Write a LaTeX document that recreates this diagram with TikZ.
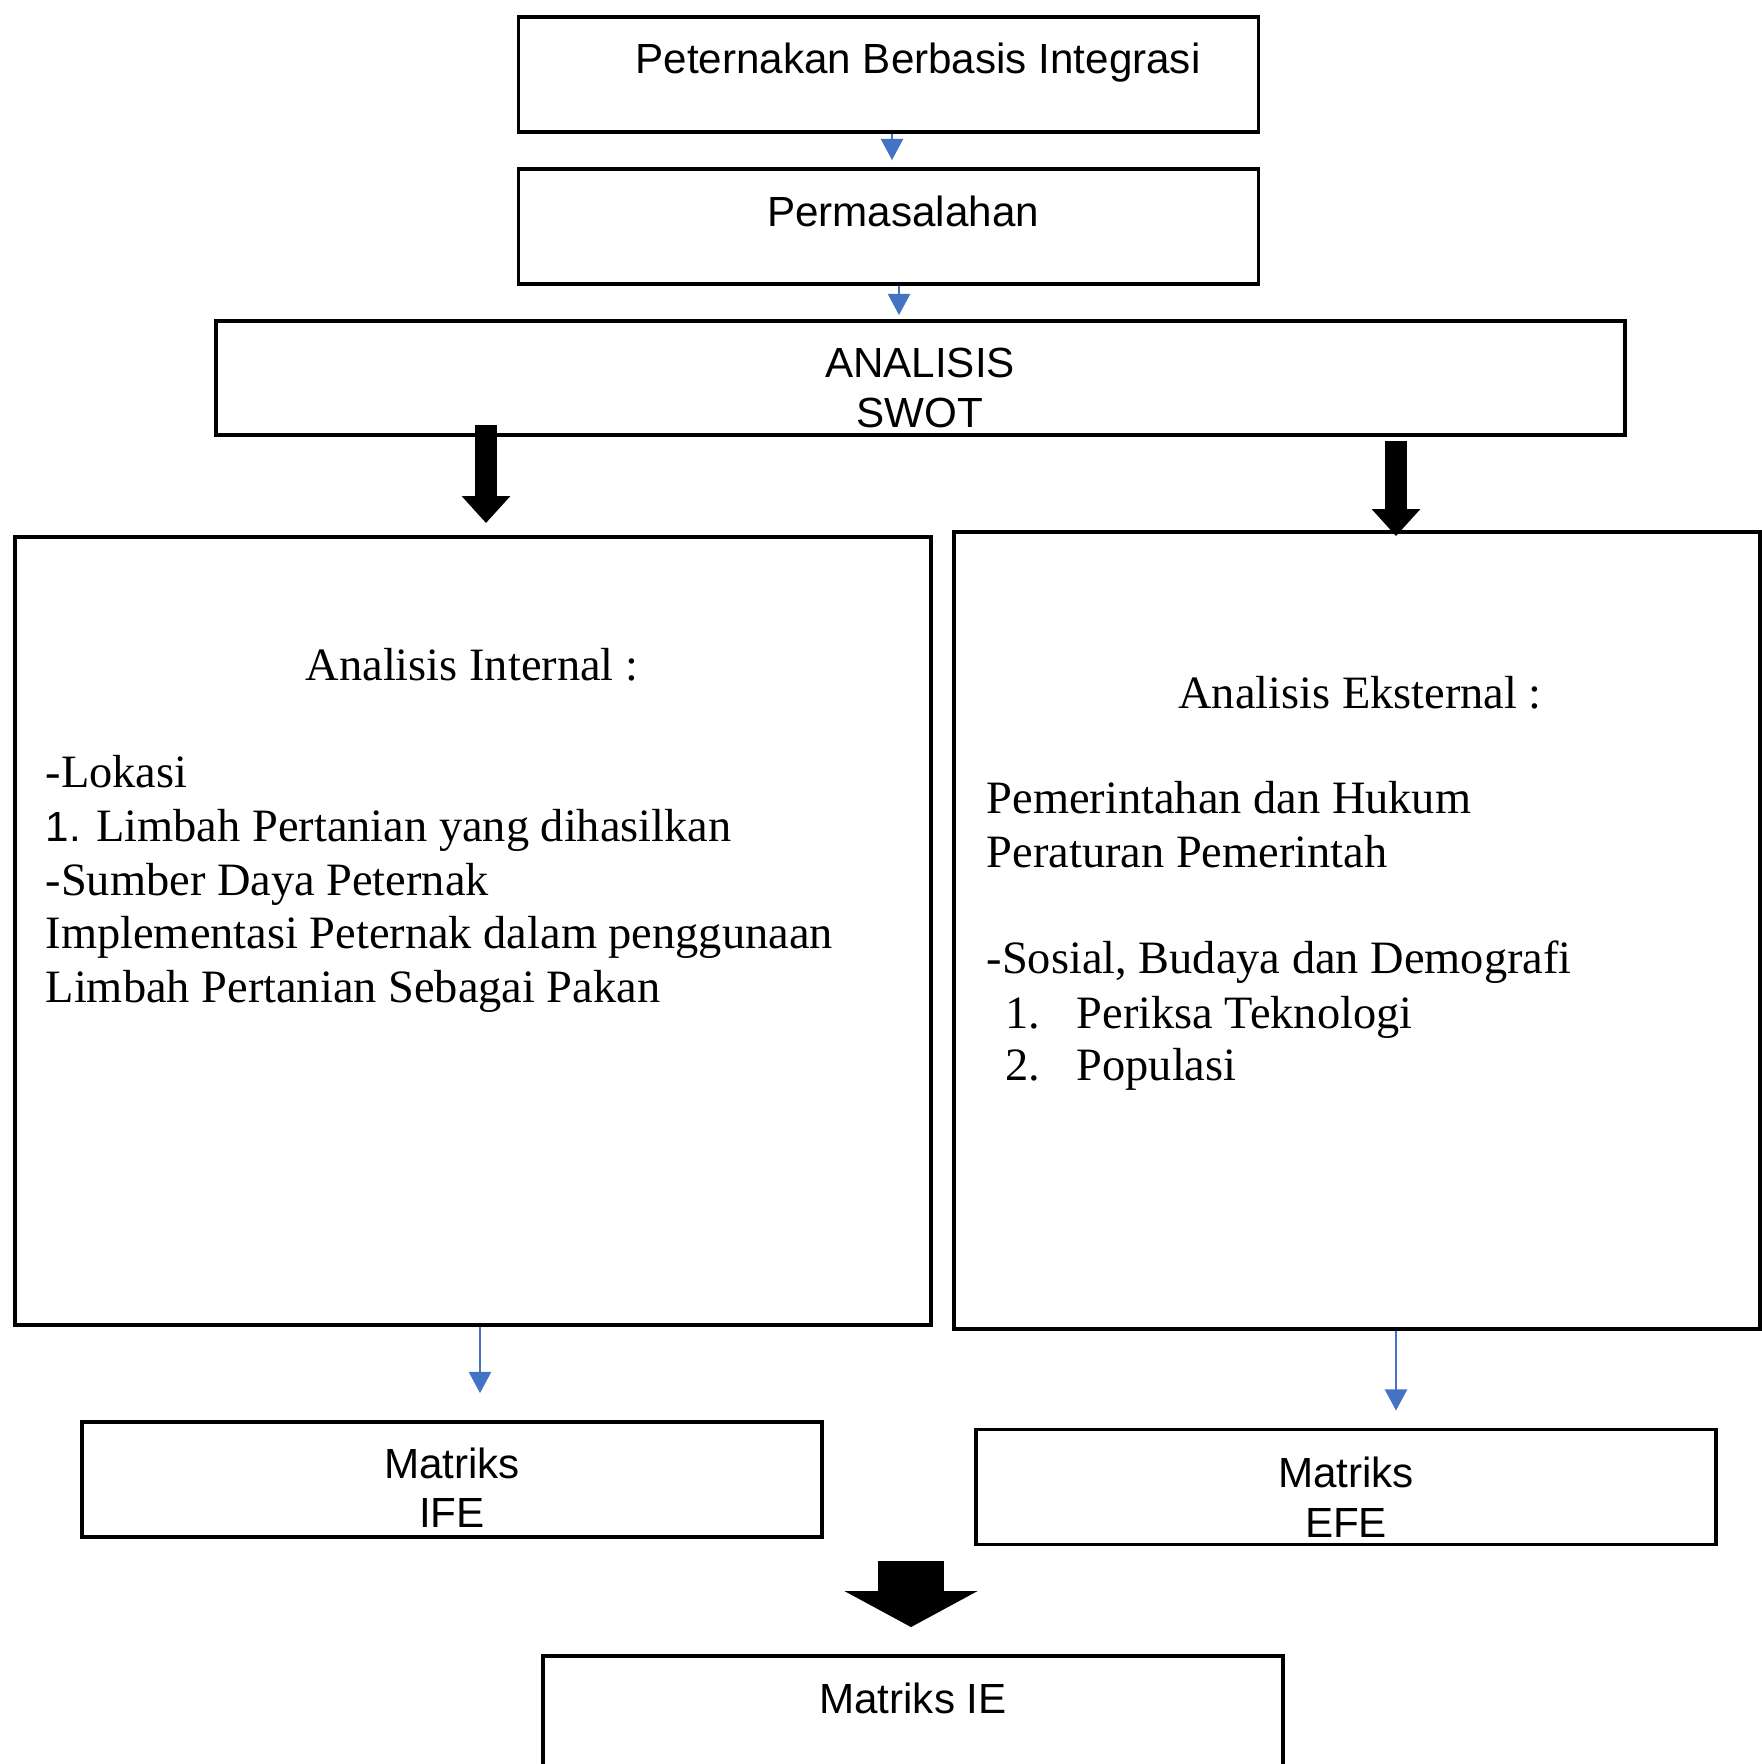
\documentclass[tikz,border=0pt]{standalone}
\usepackage{fontspec}
\setmainfont{Liberation Serif}
\newfontfamily\arialfont{Liberation Sans}
\usepackage{xcolor}
\usepackage{tikz}
\usetikzlibrary{arrows.meta,positioning,calc}
\definecolor{wordblue}{HTML}{4472C4}

\begin{document}
\begin{tikzpicture}[
		box/.style={draw, line width=1.1pt, inner sep=0pt},
		smallbox/.style={box, minimum width=7.4cm, minimum height=1.15cm},
		sanstext/.style={font=\arialfont\fontsize{12}{14}\selectfont, inner sep=0pt, anchor=base},
		seriftext/.style={font=\fontsize{13.2}{15.3}\selectfont, inner sep=0pt, anchor=base west},
		bluearr/.style={-{Triangle[width=6.3pt,length=6pt]}, line width=0.5pt, wordblue},
		fatarr/.style={-{Triangle[width=13.4pt,length=7.7pt]}, line width=6.5pt},
		hugearr/.style={-{Triangle[width=37.3pt,length=10.2pt]}, line width=18.8pt}]

	\useasboundingbox (0,0) rectangle (17.62,-17.64);

	% top row
	\node[smallbox] (top) at (8.885,-0.745) {};
	\node[sanstext] (toptxt) at (9.18,-0.74) {Peternakan Berbasis Integrasi};
	\node[smallbox] (perm) at (8.885,-2.265) {};
	\node[sanstext] (permtxt) at (9.03,-2.27) {Permasalahan};
	\node[box, minimum width=14.09cm, minimum height=1.14cm] (swot) at (9.205,-3.78) {};
	\node[sanstext] (swot1) at (9.20,-3.77) {ANALISIS};
	\node[sanstext] (swot2) at (9.20,-4.27) {SWOT};

	% internal analysis
	\node[box, minimum width=9.16cm, minimum height=7.88cm] (intern) at (4.73,-9.31) {};
	\node[seriftext, anchor=base] (inhead) at (4.72,-6.80) {Analisis Internal :};
	\node[seriftext] (in1) at (0.45,-7.87) {-Lokasi};
	\node[seriftext] (in2) at (0.45,-8.41) {{\arialfont\fontsize{12}{14}\selectfont 1.} Limbah Pertanian yang dihasilkan};
	\node[seriftext] (in3) at (0.45,-8.95) {-Sumber Daya Peternak};
	\node[seriftext] (in4) at (0.45,-9.48) {Implementasi Peternak dalam penggunaan};
	\node[seriftext] (in5) at (0.45,-10.02) {Limbah Pertanian Sebagai Pakan};

	% external analysis
	\node[box, minimum width=8.06cm, minimum height=7.97cm] (ekstern) at (13.57,-9.305) {};
	\node[seriftext, anchor=base] (exhead) at (13.60,-7.08) {Analisis Eksternal :};
	\node[seriftext] (ex1) at (9.86,-8.13) {Pemerintahan dan Hukum};
	\node[seriftext] (ex2) at (9.86,-8.67) {Peraturan Pemerintah};
	\node[seriftext] (ex3) at (9.86,-9.73) {-Sosial, Budaya dan Demografi};
	\node[seriftext] (ex4) at (10.05,-10.28) {\makebox[0.71cm][l]{1.}Periksa Teknologi};
	\node[seriftext] (ex5) at (10.05,-10.80) {\makebox[0.71cm][l]{2.}Populasi};

	% matrices
	\node[smallbox] (ife) at (4.52,-14.795) {};
	\node[sanstext] (ife1) at (4.52,-14.78) {Matriks};
	\node[sanstext] (ife2) at (4.52,-15.27) {IFE};
	\node[smallbox] (efe) at (13.46,-14.87) {};
	\node[sanstext] (efe1) at (13.46,-14.87) {Matriks};
	\node[sanstext] (efe2) at (13.46,-15.37) {EFE};
	\node[smallbox] (ie) at (9.13,-17.135) {};
	\node[sanstext] (ietxt) at (9.13,-17.13) {Matriks IE};

	% arrows
	\draw[bluearr] ($(top.south)+(0.035,0)$) -- ($(perm.north)+(0.035,0.07)$);
	\draw[bluearr] ($(perm.south)+(0.105,0)$) -- ($(swot.north -| perm.south)+(0.105,0.04)$);
	\draw[fatarr] ($(swot.south -| intern.north)+(0.13,0.12)$) -- ($(intern.north)+(0.13,0.12)$);
	\draw[fatarr] ($(swot.south -| ekstern.north)+(0.39,-0.04)$) -- ($(ekstern.north)+(0.39,-0.06)$);
	\draw[bluearr] ($(intern.south)+(0.07,0)$) -- ($(intern.south |- ife.north)+(0.07,0.27)$);
	\draw[bluearr] ($(ekstern.south)+(0.39,0)$) -- ($(ekstern.south |- efe.north)+(0.39,0.17)$);
	\draw[hugearr] ($(ie.north)+(-0.02,0.93)$) -- ($(ie.north)+(-0.02,0.27)$);

\end{tikzpicture}
\end{document}
